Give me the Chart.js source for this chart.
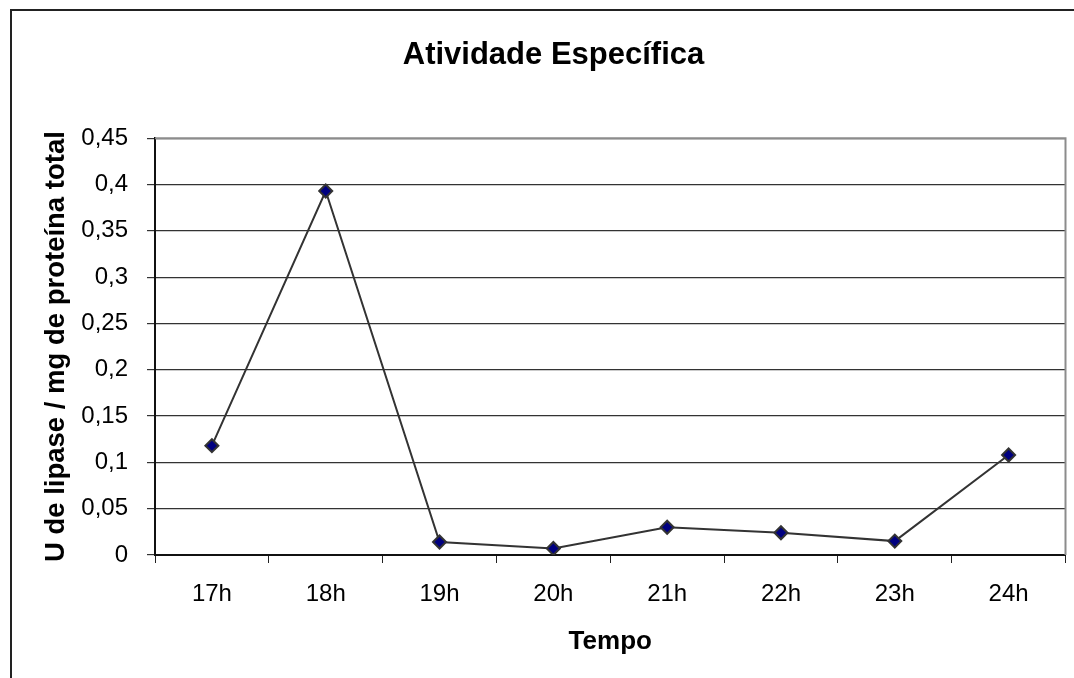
<!DOCTYPE html>
<html>
<head>
<meta charset="utf-8">
<script src="https://cdn.jsdelivr.net/npm/chart.js@4.4.1/dist/chart.umd.min.js"></script>
<style>
  html, body { margin: 0; padding: 0; background: #fff; }
  #wrap { width: 1074px; height: 678px; position: relative; }
</style>
</head>
<body>
<div id="wrap"><canvas id="chart" width="1074" height="678"></canvas></div>
<script>
// Data
const horas = ['17h', '18h', '19h', '20h', '21h', '22h', '23h', '24h'];
const atividade = [0.118, 0.393, 0.014, 0.007, 0.030, 0.024, 0.015, 0.108];
const yTicks = [0, 0.05, 0.1, 0.15, 0.2, 0.25, 0.3, 0.35, 0.4, 0.45];

Chart.defaults.font.family = '"Liberation Sans", Arial, sans-serif';
Chart.defaults.color = '#000';

// outer frame + gray top/right border of the plot area
const framePlugin = {
    id: 'frame',
    beforeDraw(chart) {
        const ctx = chart.ctx;
        ctx.save();
        ctx.fillStyle = '#fff';
        ctx.fillRect(0, 0, chart.width, chart.height);
        ctx.strokeStyle = '#222';
        ctx.lineWidth = 2;
        ctx.strokeRect(11, 10, chart.width + 20, chart.height + 20);
        ctx.restore();
    },
    afterDatasetsDraw(chart) {
        const a = chart.chartArea;
        const ctx = chart.ctx;
        ctx.save();
        ctx.strokeStyle = '#8c8c8c';
        ctx.lineWidth = 2;
        ctx.beginPath();
        ctx.moveTo(a.left, a.top);
        ctx.lineTo(a.right, a.top);
        ctx.lineTo(a.right, a.bottom);
        ctx.stroke();
        ctx.restore();
    }
};

const ctx = document.getElementById('chart').getContext('2d');
new Chart(ctx, {
    type: 'line',
    data: {
        labels: horas,
        datasets: [{
            label: 'Atividade Específica',
            data: atividade,
            borderColor: '#333',
            borderWidth: 2,
            tension: 0,
            pointStyle: 'rectRot',
            pointRadius: 6.5,
            pointBackgroundColor: '#000080',
            pointBorderColor: '#333',
            pointBorderWidth: 2
        }]
    },
    options: {
        responsive: false,
        animation: false,
        devicePixelRatio: 1,
        layout: {
            padding: { left: 40, right: 7, top: 0, bottom: 0 }
        },
        plugins: {
            legend: { display: false },
            tooltip: { enabled: false },
            title: {
                display: true,
                text: 'Atividade Específica',
                color: '#000',
                font: { size: 31, weight: 'bold' },
                padding: { top: 37, bottom: 64 }
            }
        },
        scales: {
            x: {
                offset: true,
                grid: {
                    offset: true,
                    drawOnChartArea: false,
                    drawTicks: true,
                    tickLength: 8,
                    color: '#222'
                },
                border: { color: '#111', width: 2 },
                ticks: {
                    font: { size: 24 },
                    padding: 17
                },
                title: {
                    display: true,
                    text: 'Tempo',
                    font: { size: 26, weight: 'bold' },
                    padding: { top: 0, bottom: 21 }
                },
                afterFit(scale) { scale.height = 123; }
            },
            y: {
                min: 0,
                max: 0.45,
                afterBuildTicks(scale) {
                    scale.ticks = yTicks.map(v => ({ value: v }));
                },
                grid: {
                    color: '#333',
                    lineWidth: 1.2,
                    tickLength: 8
                },
                border: { color: '#111', width: 2 },
                ticks: {
                    font: { size: 24 },
                    padding: 19,
                    callback: v => String(parseFloat(v.toFixed(2))).replace('.', ',')
                },
                title: {
                    display: true,
                    text: 'U de lipase / mg de proteína total',
                    font: { size: 27.5, weight: 'bold' },
                    padding: { top: 0, bottom: 0 }
                },
                afterFit(scale) { scale.width = 115; }
            }
        }
    },
    plugins: [framePlugin]
});
</script>
</body>
</html>
